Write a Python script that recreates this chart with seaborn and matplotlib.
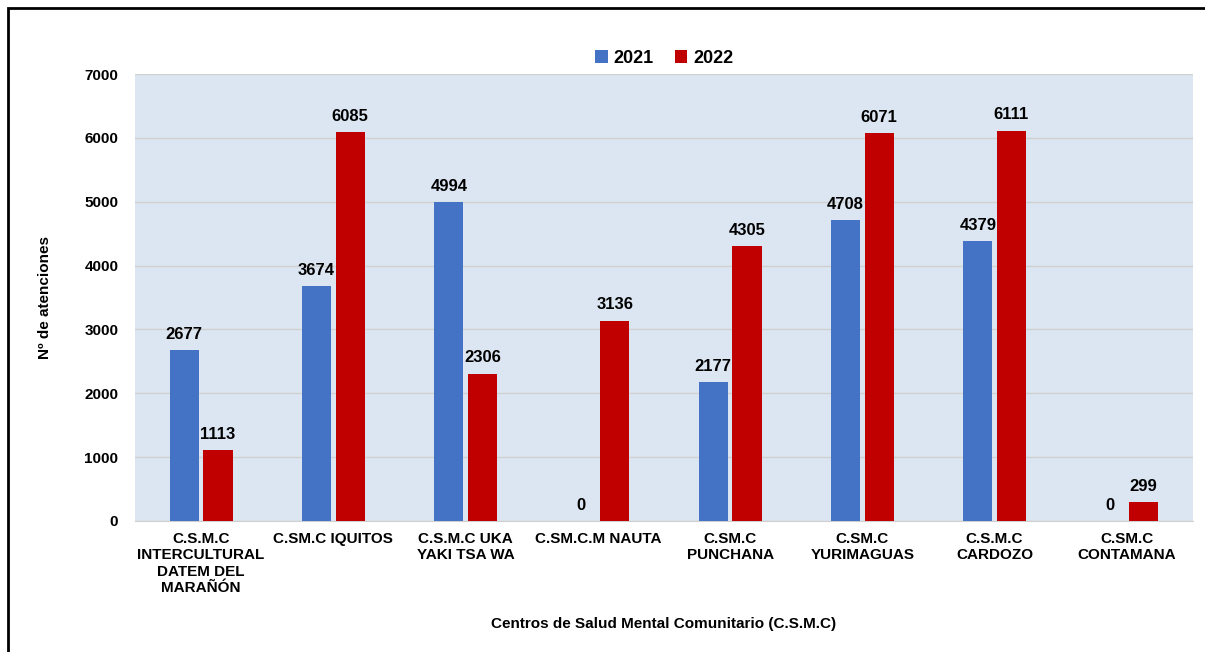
import matplotlib
matplotlib.use("Agg")
import matplotlib.pyplot as plt
import seaborn as sns
import pandas as pd
from matplotlib.patches import Rectangle

centros = ["C.S.M.C\nINTERCULTURAL\nDATEM DEL\nMARAÑÓN", "C.SM.C IQUITOS", "C.S.M.C UKA\nYAKI TSA WA",
           "C.SM.C.M NAUTA", "C.SM.C\nPUNCHANA", "C.SM.C\nYURIMAGUAS", "C.S.M.C\nCARDOZO",
           "C.SM.C\nCONTAMANA"]
atenciones_2021 = [2677, 3674, 4994, 0, 2177, 4708, 4379, 0]
atenciones_2022 = [1113, 6085, 2306, 3136, 4305, 6071, 6111, 299]
years = ["2021", "2022"]
colores = ["#4472C4", "#C00000"]

df = pd.DataFrame({
    "centro": centros * 2,
    "anio": [years[0]] * len(centros) + [years[1]] * len(centros),
    "valor": atenciones_2021 + atenciones_2022,
})

sns.set_style("white")
plt.rcParams["font.family"] = ["Liberation Sans", "DejaVu Sans"]
plt.rcParams["font.weight"] = "bold"
plt.rcParams["text.color"] = "black"
plt.rcParams["axes.labelcolor"] = "black"
plt.rcParams["xtick.color"] = "black"
plt.rcParams["ytick.color"] = "black"

fig = plt.figure(figsize=(12.05, 6.52), dpi=100)
ax = fig.add_axes([135 / 1205, 1 - 521 / 652, (1193 - 135) / 1205, (521 - 74) / 652])
ax.set_facecolor("#DCE6F2")

sns.barplot(data=df, x="centro", y="valor", hue="anio", palette=colores, saturation=1,
            width=0.51, gap=0.13, linewidth=0, ax=ax, zorder=3)

for cont in ax.containers:
    ax.bar_label(cont, padding=6, fontsize=12, fontweight="bold", color="black")

ax.set_ylim(0, 7000)
ax.set_yticks(range(0, 7001, 1000))
ax.grid(axis="y", color="#D0D0D0", linewidth=1, zorder=0)
ax.set_axisbelow(True)
for s in ["top", "right", "left"]:
    ax.spines[s].set_visible(False)
ax.spines["bottom"].set_color("#D0D0D0")
ax.tick_params(axis="both", length=0, labelsize=11)
ax.tick_params(axis="y", pad=12)
ax.tick_params(axis="x", pad=8)
for lbl in ax.get_xticklabels() + ax.get_yticklabels():
    lbl.set_fontweight("bold")
ax.set_xlabel("Centros de Salud Mental Comunitario (C.S.M.C)", fontsize=11, fontweight="bold")
ax.set_ylabel("Nº de atenciones", fontsize=11, fontweight="bold")
ax.xaxis.set_label_coords(0.5, -0.215)
ax.yaxis.set_label_coords(-0.078, 0.5)

ax.legend(loc="lower center", bbox_to_anchor=(0.5, 0.98), ncol=2, frameon=False,
          handlelength=0.7, handleheight=0.7, handletextpad=0.3,
          columnspacing=1.2, prop={"weight": "bold", "size": 13})

fig.patches.append(Rectangle((8 / 1205, -0.01), 1.2, 1 - 8 / 652 + 0.01, transform=fig.transFigure,
                             fill=False, edgecolor="black", linewidth=2))

fig.savefig("out.png", dpi=100)
